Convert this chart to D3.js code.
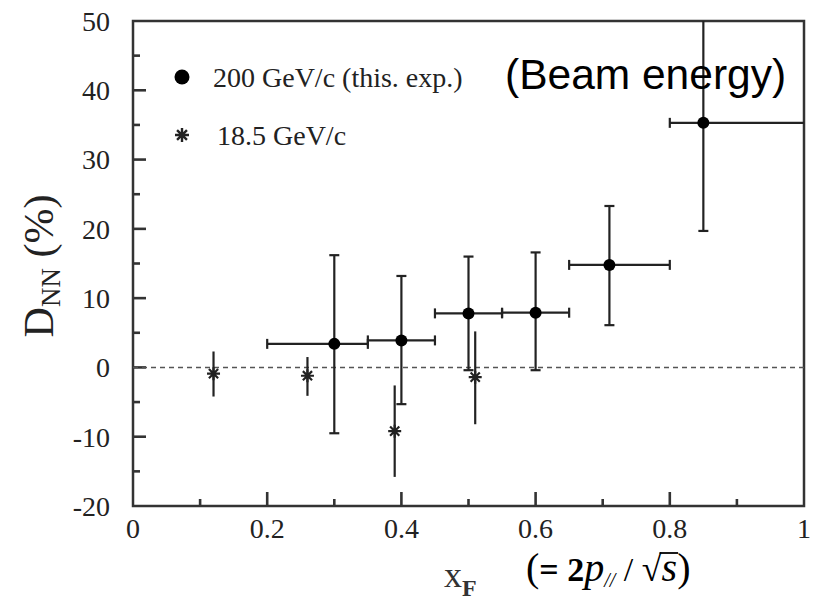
<!DOCTYPE html>
<html>
<head>
<meta charset="UTF-8">
<title>D_NN vs x_F</title>
<script src="https://d3js.org/d3.v7.min.js"></script>
<style>
  body { margin: 0; background: #fff; }
  svg { display: block; }
</style>
</head>
<body>
<svg id="chart" width="814" height="607"></svg>
<script>
// 200 GeV/c (this exp.)
const xf200   = [0.30, 0.40, 0.50, 0.60, 0.71, 0.85];
const dnn200  = [3.4, 3.9, 7.8, 7.9, 14.8, 35.3];
const xLo200  = [0.20, 0.35, 0.45, 0.55, 0.65, 0.80];
const xHi200  = [0.35, 0.45, 0.55, 0.65, 0.80, 1.00];
const yLo200  = [-9.5, -5.3, -0.4, -0.4, 6.1, 19.7];
const yHi200  = [16.2, 13.2, 16.0, 16.6, 23.3, 50];

// 18.5 GeV/c
const xf18  = [0.12, 0.26, 0.39, 0.51];
const dnn18 = [-0.9, -1.2, -9.2, -1.4];
const yLo18 = [-4.2, -4.1, -15.8, -8.2];
const yHi18 = [2.3, 1.5, -2.6, 5.2];

const xTicks = [0, 0.2, 0.4, 0.6, 0.8, 1];
const xMinor = [0.1, 0.3, 0.5, 0.7, 0.9];
const yTicks = [-20, -10, 0, 10, 20, 30, 40, 50];
const yMinor = [-15, -5, 5, 15, 25, 35, 45];

const svg = d3.select("#chart");
const margin = { top: 21, right: 10, bottom: 101, left: 133 };
const W = +svg.attr("width"), H = +svg.attr("height");

const x = d3.scaleLinear().domain([0, 1]).range([margin.left, W - margin.right]);
const y = d3.scaleLinear().domain([-20, 50]).range([H - margin.bottom, margin.top]);

const ink = "#222";
const serif = '"Liberation Serif", "Times New Roman", serif';
const yb = y(-20), x0 = x(0);

// frame
svg.append("rect")
  .attr("x", x0).attr("y", y(50))
  .attr("width", x(1) - x0).attr("height", yb - y(50))
  .attr("fill", "none").attr("stroke", "#333").attr("stroke-width", 2.5);

// inward ticks
svg.append("g").selectAll("line").data(xTicks.slice(1, -1)).join("line")
  .attr("x1", d => x(d)).attr("x2", d => x(d)).attr("y1", yb).attr("y2", yb - 14)
  .attr("stroke", "#333").attr("stroke-width", 2.6);
svg.append("g").selectAll("line").data(xMinor).join("line")
  .attr("x1", d => x(d)).attr("x2", d => x(d)).attr("y1", yb).attr("y2", yb - 7)
  .attr("stroke", "#333").attr("stroke-width", 2.6);
svg.append("g").selectAll("line").data(yTicks.slice(1, -1)).join("line")
  .attr("x1", x0).attr("x2", x0 + 13).attr("y1", d => y(d)).attr("y2", d => y(d))
  .attr("stroke", "#333").attr("stroke-width", 2.6);
svg.append("g").selectAll("line").data(yMinor).join("line")
  .attr("x1", x0).attr("x2", x0 + 7).attr("y1", d => y(d)).attr("y2", d => y(d))
  .attr("stroke", "#333").attr("stroke-width", 2.6);

// tick labels
svg.append("g").selectAll("text").data(xTicks).join("text")
  .attr("x", d => x(d)).attr("y", yb + 32)
  .attr("text-anchor", "middle").attr("font-family", serif).attr("font-size", 28).attr("fill", ink)
  .text(d => String(d));
svg.append("g").selectAll("text").data(yTicks).join("text")
  .attr("x", x0 - 23).attr("y", d => y(d)).attr("dy", "0.35em")
  .attr("text-anchor", "end").attr("font-family", serif).attr("font-size", 28).attr("fill", ink)
  .text(d => String(d));

// zero line
svg.append("line")
  .attr("x1", x0).attr("x2", x(1)).attr("y1", y(0)).attr("y2", y(0))
  .attr("stroke", "#555").attr("stroke-width", 1.6).attr("stroke-dasharray", "5,4");

// 200 GeV/c points with error bars
const pts200 = xf200.map((v, i) => ({ x: v, y: dnn200[i], xl: xLo200[i], xh: xHi200[i], yl: yLo200[i], yh: yHi200[i] }));
const g200 = svg.append("g").attr("stroke", ink).attr("stroke-width", 2.2);
const capV = 5, capH = 5;
pts200.forEach(d => {
  g200.append("line").attr("x1", x(d.xl)).attr("x2", x(d.xh)).attr("y1", y(d.y)).attr("y2", y(d.y));
  g200.append("line").attr("x1", x(d.x)).attr("x2", x(d.x)).attr("y1", y(d.yl)).attr("y2", y(d.yh));
  if (d.xl > 0) g200.append("line").attr("x1", x(d.xl)).attr("x2", x(d.xl)).attr("y1", y(d.y) - capH).attr("y2", y(d.y) + capH);
  if (d.xh < 1) g200.append("line").attr("x1", x(d.xh)).attr("x2", x(d.xh)).attr("y1", y(d.y) - capH).attr("y2", y(d.y) + capH);
  if (d.yh < 50) g200.append("line").attr("x1", x(d.x) - capV).attr("x2", x(d.x) + capV).attr("y1", y(d.yh)).attr("y2", y(d.yh));
  if (d.yl > -20) g200.append("line").attr("x1", x(d.x) - capV).attr("x2", x(d.x) + capV).attr("y1", y(d.yl)).attr("y2", y(d.yl));
});
svg.append("g").selectAll("circle").data(pts200).join("circle")
  .attr("cx", d => x(d.x)).attr("cy", d => y(d.y)).attr("r", 6).attr("fill", "#000");

// asterisk marker
function asterisk(r) {
  const a = r * Math.SQRT1_2;
  return `M${-r},0L${r},0M0,${-r}L0,${r}M${-a},${-a}L${a},${a}M${-a},${a}L${a},${-a}`;
}

const pts18 = xf18.map((v, i) => ({ x: v, y: dnn18[i], lo: yLo18[i], hi: yHi18[i] }));
svg.append("g").selectAll("line").data(pts18).join("line")
  .attr("x1", d => x(d.x)).attr("x2", d => x(d.x))
  .attr("y1", d => y(d.lo)).attr("y2", d => y(d.hi))
  .attr("stroke", ink).attr("stroke-width", 2.2);
svg.append("g").selectAll("path").data(pts18).join("path")
  .attr("transform", d => `translate(${x(d.x)},${y(d.y)})`)
  .attr("d", asterisk(6.5)).attr("stroke", ink).attr("stroke-width", 2.2).attr("fill", "none");

// legend
svg.append("circle").attr("cx", 182).attr("cy", 77).attr("r", 7.5).attr("fill", "#000");
svg.append("text").attr("x", 213).attr("y", 87).attr("font-family", serif).attr("font-size", 28)
  .attr("fill", ink).text("200 GeV/c (this. exp.)");
svg.append("path").attr("transform", "translate(182,135)").attr("d", asterisk(7))
  .attr("stroke", ink).attr("stroke-width", 2.4).attr("fill", "none");
svg.append("text").attr("x", 217).attr("y", 145).attr("font-family", serif).attr("font-size", 28)
  .attr("fill", ink).text("18.5 GeV/c");

// annotation
svg.append("text").attr("x", 505).attr("y", 89).attr("font-family", '"Liberation Sans", Arial, sans-serif')
  .attr("font-size", 42.5).attr("fill", "#000").text("(Beam energy)");

// y label
const yLab = svg.append("text").attr("transform", "translate(53,266) rotate(-90)")
  .attr("text-anchor", "middle").attr("font-family", serif).attr("font-size", 42).attr("fill", ink);
yLab.append("tspan").text("D");
yLab.append("tspan").attr("font-size", 27).attr("dy", 7).text("NN");
yLab.append("tspan").attr("dy", -7).text(" (%)");

// x label
const xLab = svg.append("text").attr("x", 444).attr("y", 587).attr("font-family", serif).attr("font-size", 36).attr("fill", "#333");
xLab.append("tspan").text("x");
xLab.append("tspan").attr("font-size", 24).attr("font-weight", "bold").attr("dy", 9).text("F");

const fx = svg.append("text").attr("x", 526).attr("y", 581).attr("font-family", serif).attr("font-size", 40).attr("fill", "#000");
fx.append("tspan").text("(");
fx.append("tspan").attr("font-weight", "bold").attr("font-size", 34).text("= 2");
fx.append("tspan").attr("font-style", "italic").attr("font-size", 40).text("p");
fx.append("tspan").attr("font-style", "italic").attr("font-size", 20).attr("dy", 6).text("//");
fx.append("tspan").attr("font-size", 34).attr("dy", -6).text(" / ");
fx.append("tspan").attr("font-size", 36).text("√");
fx.append("tspan").attr("font-style", "italic").attr("font-size", 40).text("s");
fx.append("tspan").text(")");

// overline of the square root
const full = fx.text();
const node = fx.node();
const iRoot = full.indexOf("√");
const rootBox = node.getExtentOfChar(iRoot);
const sBox = node.getExtentOfChar(iRoot + 1);
svg.append("line")
  .attr("x1", rootBox.x + rootBox.width - 2).attr("x2", sBox.x + sBox.width + 1)
  .attr("y1", rootBox.y + 4).attr("y2", rootBox.y + 4)
  .attr("stroke", "#000").attr("stroke-width", 1.8);
</script>
</body>
</html>
